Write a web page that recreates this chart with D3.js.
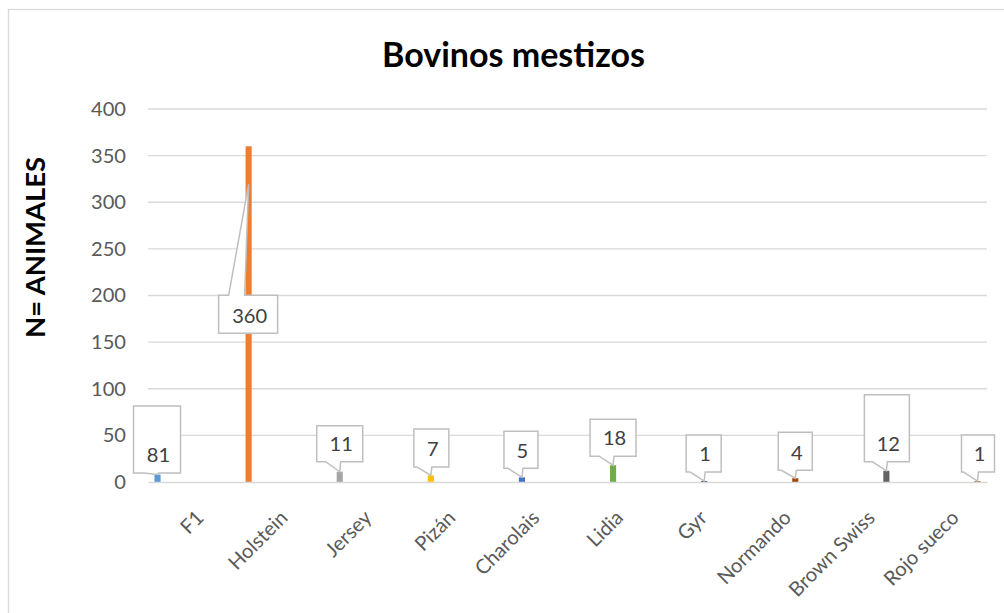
<!DOCTYPE html>
<html>
<head>
<meta charset="utf-8">
<script src="https://cdn.jsdelivr.net/npm/d3@7"></script>
<style>
  html, body { margin: 0; padding: 0; background: #fff; }
  svg { display: block; }
  text { font-family: Lato, "Open Sans", sans-serif; }
</style>
</head>
<body>
<svg id="chart" width="1004" height="613"></svg>
<script>
// ---- data ----
const categories = ["F1", "Holstein", "Jersey", "Pizán", "Charolais", "Lidia", "Gyr", "Normando", "Brown Swiss", "Rojo sueco"];
const values = [8, 360, 11, 7, 5, 18, 1, 4, 12, 1];
const dataLabels = ["81", "360", "11", "7", "5", "18", "1", "4", "12", "1"];
const colors = ["#5B9BD5", "#ED7D31", "#A5A5A5", "#FFC000", "#4472C4", "#70AD47", "#264478", "#9E480E", "#636363", "#997300"];
const yTicks = [0, 50, 100, 150, 200, 250, 300, 350, 400];
const titleText = "Bovinos mestizos";
const yTitleText = "N= ANIMALES";

// ---- callout layout (offsets relative to bar top centre, px) ----
const calloutLayout = [
  { dx: -24, dy: -68.5, w: 47, h: 67, tipDy: 0 },
  { dx: -30, dy: 149, w: 59, h: 38, tipDy: 38 },
  { dx: -23, dy: -46, w: 46, h: 36, tipDy: 0 },
  { dx: -17, dy: -46.5, w: 35, h: 38, tipDy: 0 },
  { dx: -18, dy: -46, w: 34, h: 37, tipDy: 0 },
  { dx: -23, dy: -46, w: 46, h: 37, tipDy: 0 },
  { dx: -18, dy: -46, w: 35, h: 37, tipDy: 0 },
  { dx: -17, dy: -46, w: 34, h: 38, tipDy: 0 },
  { dx: -22, dy: -76, w: 45, h: 67, tipDy: 0 },
  { dx: -16, dy: -46, w: 33, h: 37, tipDy: 0 }
];

const svg = d3.select("#chart");

// chart area border (extends past the visible window)
svg.append("rect")
  .attr("x", 8.5).attr("y", 9.5).attr("width", 1100).attr("height", 700)
  .attr("fill", "#fff").attr("stroke", "#d9d9d9").attr("stroke-width", 1.3);

const plot = { left: 148, right: 987, top: 109, bottom: 482 };

const x0 = d3.scaleBand().domain(categories).range([plot.left, plot.right]).paddingInner(0).paddingOuter(0);
const x1 = d3.scaleBand().domain(categories).range([-35.5, 35.5]).paddingInner(0.15);
const y = d3.scaleLinear().domain([0, 400]).range([plot.bottom, plot.top]);

const barCenter = (c) => x0(c) + x0.bandwidth() / 2 + x1(c) + x1.bandwidth() / 2;
const catCenter = (c) => x0(c) + x0.bandwidth() / 2;

function fitFont(sel, size, target) {
  sel.style("font-size", size + "px");
  const len = sel.node().getComputedTextLength();
  const s = size * target / len;
  sel.style("font-size", s + "px");
  return s;
}

// gridlines
svg.append("g")
  .selectAll("line")
  .data(yTicks.filter(t => t !== 0))
  .join("line")
  .attr("x1", plot.left).attr("x2", plot.right)
  .attr("y1", d => y(d)).attr("y2", d => y(d))
  .attr("stroke", "#d9d9d9").attr("stroke-width", 1.3);

// y axis labels (via d3 axis)
const yAxis = d3.axisLeft(y).tickValues(yTicks).tickSize(0).tickPadding(22);
const gy = svg.append("g").attr("transform", `translate(${plot.left},0)`).call(yAxis);
gy.select(".domain").remove();
gy.selectAll("text").attr("fill", "#595959").style("font-family", "Lato, 'Open Sans', sans-serif");
// size from width of "400"
let tickSize = 20;
{
  const t400 = gy.selectAll("text").filter(d => d === 400);
  tickSize = fitFont(t400, 20, 35);
  gy.selectAll("text").style("font-size", tickSize + "px");
}

// bars
svg.append("g")
  .selectAll("rect")
  .data(categories)
  .join("rect")
  .attr("x", (c) => x0(c) + x0.bandwidth() / 2 + x1(c))
  .attr("width", x1.bandwidth())
  .attr("y", (c, i) => y(values[i]))
  .attr("height", (c, i) => y(0) - y(values[i]))
  .attr("fill", (c, i) => colors[i]);

// x axis line
const xAxis = d3.axisBottom(x0).tickSize(0).tickFormat("");
const gx = svg.append("g").attr("transform", `translate(0,${plot.bottom})`).call(xAxis);
gx.select(".domain").attr("stroke", "#d9d9d9").attr("stroke-width", 1.5);

// category labels
svg.append("g")
  .selectAll("text")
  .data(categories)
  .join("text")
  .attr("text-anchor", "end")
  .attr("transform", c => `translate(${catCenter(c) + 10},${plot.bottom + 32}) rotate(-45)`)
  .attr("dy", "0.35em")
  .attr("fill", "#595959")
  .style("font-size", tickSize + "px")
  .text(c => c);

// callouts
const cg = svg.append("g");
categories.forEach((c, i) => {
  const L = calloutLayout[i];
  const xc = barCenter(c);
  const yt = y(values[i]);
  const bx0 = xc + L.dx, bx1 = bx0 + L.w;
  const by0 = yt + L.dy, by1 = by0 + L.h;
  const tx = xc, ty = yt + L.tipDy;
  let p;
  if (ty < by0) {
    const b0 = Math.max(bx0 + 1, xc - 20), b1 = Math.min(bx1 - 1, xc - 4);
    p = `M${bx0},${by0}L${b0},${by0}L${tx},${ty}L${b1},${by0}L${bx1},${by0}L${bx1},${by1}L${bx0},${by1}Z`;
  } else {
    const b0 = Math.max(bx0 + 1, xc - 14), b1 = Math.min(bx1 - 1, xc + 1);
    p = `M${bx0},${by0}L${bx1},${by0}L${bx1},${by1}L${b1},${by1}L${tx},${Math.max(ty, by1)}L${b0},${by1}L${bx0},${by1}Z`;
  }
  cg.append("path").attr("d", p).attr("fill", "#fff").attr("stroke", "#bfbfbf").attr("stroke-width", 1.5).attr("stroke-linejoin", "miter");
  cg.append("text")
    .attr("x", (bx0 + bx1) / 2 + 1.5)
    .attr("y", by1 - 18)
    .attr("dy", "0.36em")
    .attr("text-anchor", "middle")
    .attr("fill", "#404040")
    .style("font-size", tickSize + "px")
    .text(dataLabels[i]);
});

// title
const title = svg.append("text")
  .attr("x", 513.5).attr("y", 67)
  .attr("text-anchor", "middle")
  .attr("fill", "#000")
  .style("font-weight", "bold")
  .text(titleText);
fitFont(title, 34, 263);

// y axis title
const yTitle = svg.append("text")
  .attr("transform", "translate(45,247.5) rotate(-90)")
  .attr("text-anchor", "middle")
  .attr("fill", "#000")
  .style("font-weight", "bold")
  .text(yTitleText);
fitFont(yTitle, 26, 181);
</script>
</body>
</html>
